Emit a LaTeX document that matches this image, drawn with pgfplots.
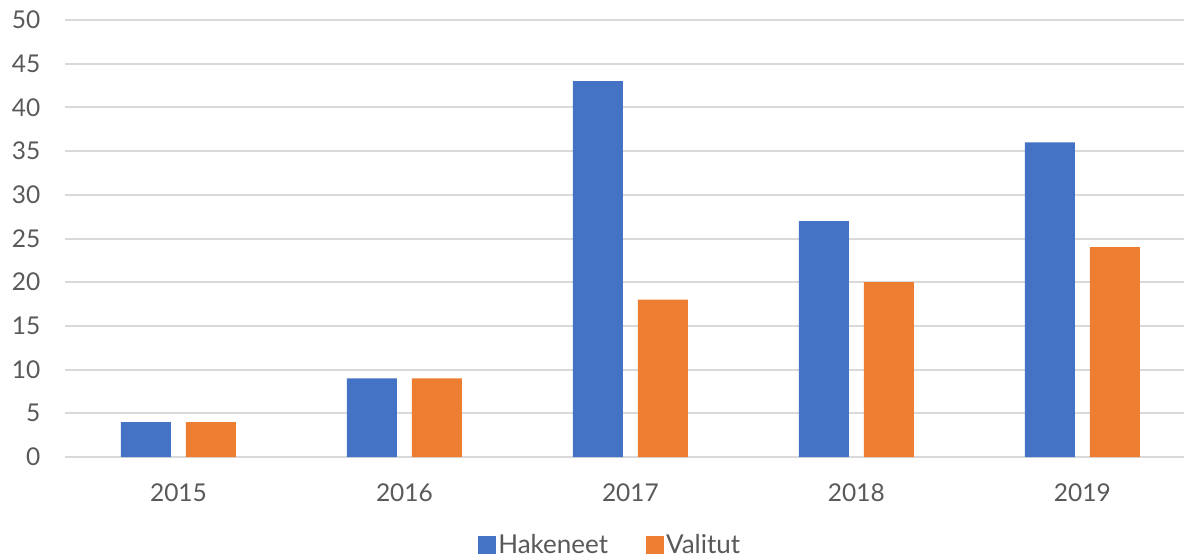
\documentclass[border=0pt]{standalone}
\usepackage{pgfplots}
\pgfplotsset{compat=1.18}
\usepackage{fontspec}
\setmainfont{Lato}
\definecolor{hblue}{HTML}{4472C4}
\definecolor{vorange}{HTML}{ED7D31}
\definecolor{gridgray}{HTML}{D9D9D9}
\definecolor{txtgray}{HTML}{595959}
\begin{document}
\begin{tikzpicture}
\begin{axis}[
  scale only axis,
  width=1118.5pt, height=437pt,
  ybar=15pt, bar width=50pt,
  xmin=-0.5, xmax=4.45,
  ymin=0, ymax=50,
  ytick={0,5,...,50},
  xtick=data,
  xticklabels={2015,2016,2017,2018,2019},
  major tick length=0pt,
  axis line style={draw=none},
  ymajorgrids, grid style={gridgray, line width=2pt},
  font=\fontsize{24.5}{28}\selectfont,
  tick label style={text=txtgray},
  /pgf/number format/assume math mode=true,
  yticklabel style={anchor=east, inner sep=0pt, xshift=-25pt},
  xticklabel style={anchor=north, inner sep=0pt, yshift=-27pt},
  legend columns=2,
  legend style={at={(rel axis cs:0.487,0)}, anchor=center, yshift=-88pt,
    draw=none, text=txtgray, font=\fontsize{26}{30}\selectfont,
    /tikz/every even column/.append style={column sep=36pt}},
  legend image code/.code={\fill[#1] (-3pt,-9pt) rectangle (15pt,9pt);},
]
\addplot[fill=hblue, draw=none] coordinates {(0,4) (1,9) (2,43) (3,27) (4,36)};
\addlegendentry{Hakeneet}
\addplot[fill=vorange, draw=none] coordinates {(0,4) (1,9) (2,18) (3,20) (4,24)};
\addlegendentry{Valitut}
\coordinate (sw) at (rel axis cs:0,0);
\end{axis}
\pgfresetboundingbox
\path ([xshift=-65.5pt,yshift=-101pt]sw) rectangle ([xshift=1119.5pt,yshift=457pt]sw);
\end{tikzpicture}
\end{document}
